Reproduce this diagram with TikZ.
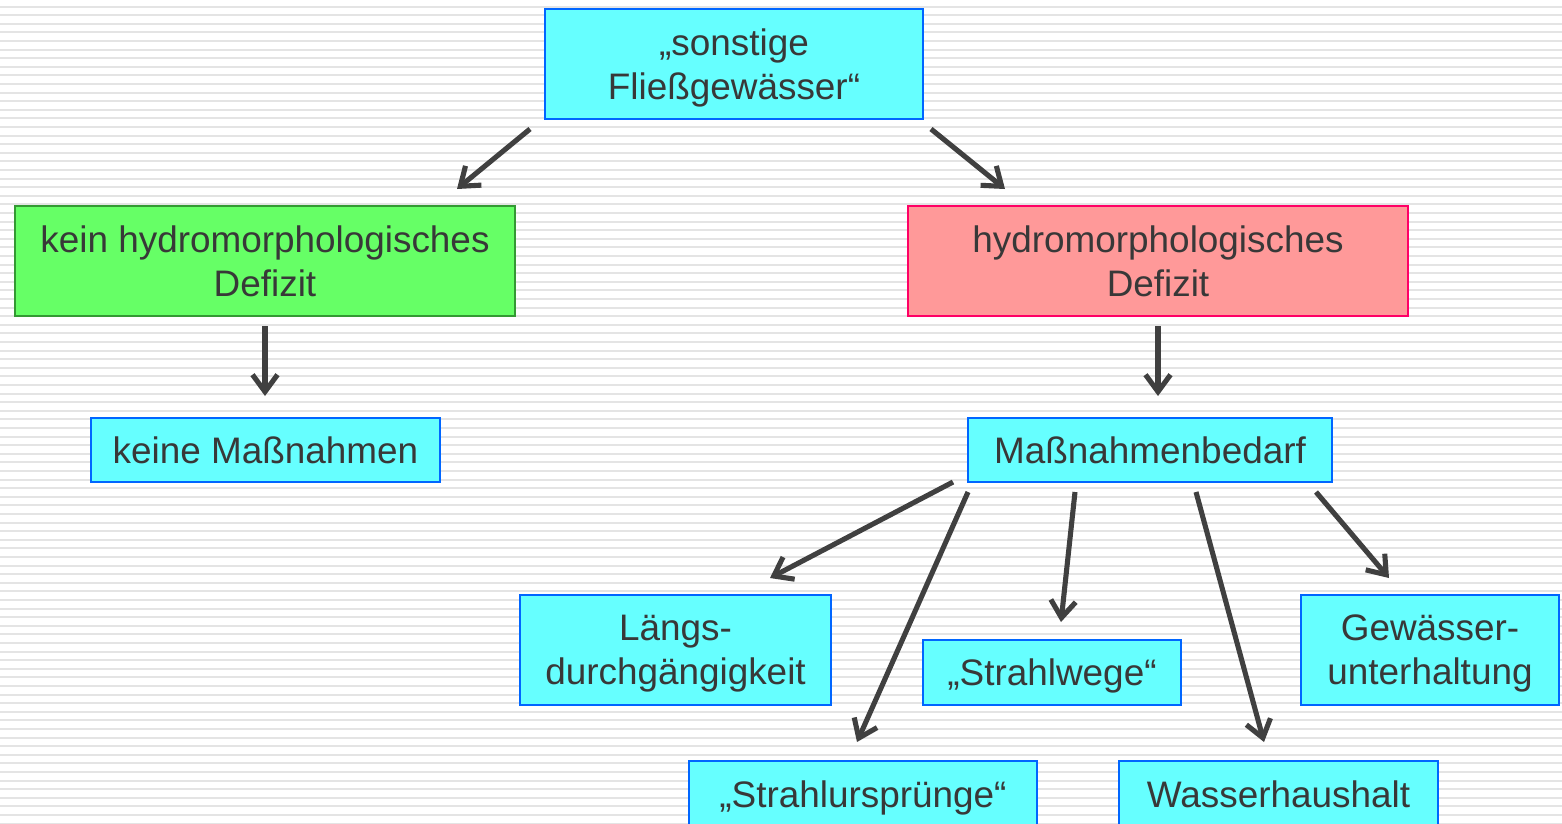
\documentclass[tikz,border=0pt]{standalone}
\usepackage{fontspec}
\setmainfont{Liberation Sans}
\usetikzlibrary{arrows.meta,positioning,calc}
\usepackage{xcolor}

\definecolor{boxcyan}{HTML}{66FFFF}
\definecolor{boxblue}{HTML}{0066FF}
\definecolor{boxgreen}{HTML}{66FF66}
\definecolor{boxgreenline}{HTML}{339933}
\definecolor{boxred}{HTML}{FF9999}
\definecolor{boxredline}{HTML}{FF0066}
\definecolor{textgray}{HTML}{383838}
\definecolor{arrowgray}{HTML}{404040}
\definecolor{stripegray}{HTML}{E4E4E4}

\tikzset{
  box/.style={draw=boxblue, fill=boxcyan, line width=1.1pt, align=center,
    text=textgray, inner sep=0pt, text depth=0pt, font=\fontsize{21}{25}\selectfont},
  greenbox/.style={box, draw=boxgreenline, fill=boxgreen},
  redbox/.style={box, draw=boxredline, fill=boxred},
  arr/.style={draw=arrowgray, line width=2.9pt,
    -{Straight Barb[length=3.4mm,width=5mm]}}
}

\begin{document}
\begin{tikzpicture}[x=0.02cm, y=-0.02cm]
  % Background stripes
  \useasboundingbox (0,0) rectangle (1562,823);
  \fill[white] (0,0) rectangle (1562,823);
  \foreach \i in {0,...,95}
    \fill[stripegray] (0,{5.5+8.6*\i}) rectangle (1562,{7.5+8.6*\i});

  % Boxes
  \node[box, minimum width=7.56cm, minimum height=2.2cm] (fg) at (734,64) {„sonstige\\Fließgewässer“};
  \node[greenbox, minimum width=10cm, minimum height=2.2cm] (kein) at (265,261) {kein hydromorphologisches\\Defizit};
  \node[redbox, minimum width=10cm, minimum height=2.2cm] (defizit) at (1158,261) {hydromorphologisches\\Defizit};
  \node[box, minimum width=6.98cm, minimum height=1.28cm] (keine) at (265.5,450) {keine Maßnahmen};
  \node[box, minimum width=7.28cm, minimum height=1.28cm] (bedarf) at (1150,450) {Maßnahmenbedarf};
  \node[box, minimum width=6.22cm, minimum height=2.2cm] (laengs) at (675.5,650) {Längs-\\durchgängigkeit};
  \node[box, minimum width=5.16cm, minimum height=1.3cm] (wege) at (1052,672.5) {„Strahlwege“};
  \node[box, minimum width=5.16cm, minimum height=2.2cm] (unterh) at (1430,650) {Gewässer-\\unterhaltung};
  \node[box, minimum width=6.96cm, minimum height=1.32cm] (urspr) at (863,794) {„Strahlursprünge“};
  \node[box, minimum width=6.38cm, minimum height=1.32cm] (wasser) at (1278.5,794) {Wasserhaushalt};

  % Arrow ends
  \coordinate (fgL) at (530,129);   \coordinate (keinT) at (457,189);
  \coordinate (fgR) at (931,129);   \coordinate (defT) at (1005,189);
  \coordinate (keinB) at (265,326); \coordinate (keineT) at (265,396);
  \coordinate (defB) at (1158,326); \coordinate (bedT) at (1158,396);
  \coordinate (bed1) at (953,482);  \coordinate (laengsT) at (770,578);
  \coordinate (bed2) at (968,492);  \coordinate (ursprT) at (857,742);
  \coordinate (bed3) at (1075,492); \coordinate (wegeT) at (1061,622);
  \coordinate (bed4) at (1196,492); \coordinate (wasserT) at (1264,742);
  \coordinate (bed5) at (1316,492); \coordinate (unterhT) at (1389,578);

  % Arrows
  \draw[arr] (fgL) -- (keinT);
  \draw[arr] (fgR) -- (defT);
  \draw[arr] (keinB) -- (keineT);
  \draw[arr] (defB) -- (bedT);
  \draw[arr] (bed1) -- (laengsT);
  \draw[arr] (bed2) -- (ursprT);
  \draw[arr] (bed3) -- (wegeT);
  \draw[arr] (bed4) -- (wasserT);
  \draw[arr] (bed5) -- (unterhT);
\end{tikzpicture}
\end{document}
